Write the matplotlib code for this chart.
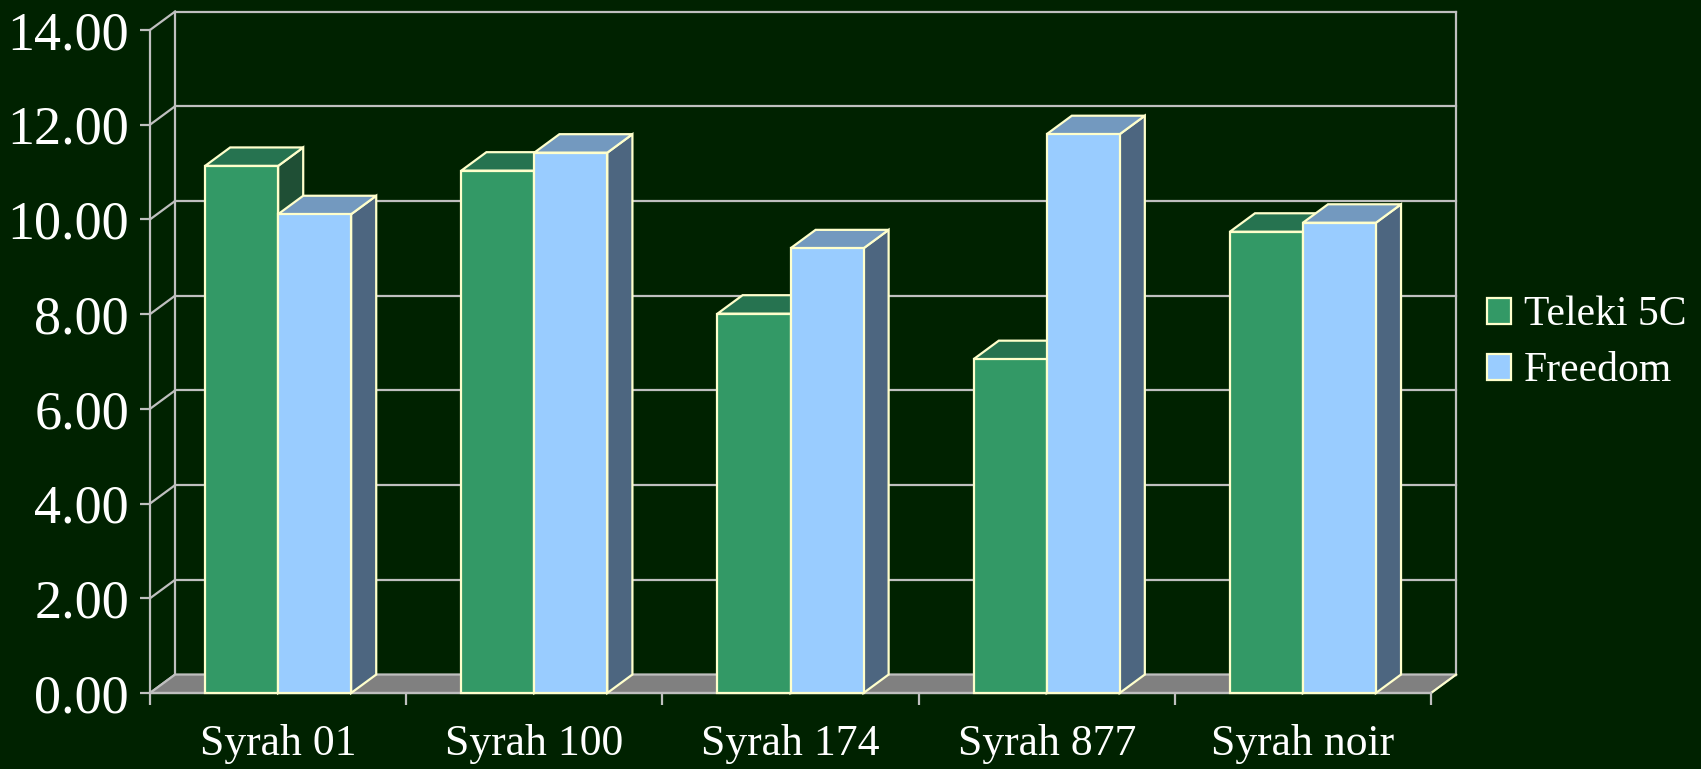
import matplotlib
matplotlib.use("Agg")
import matplotlib.pyplot as plt
from matplotlib.patches import Polygon, Patch

categories = ["Syrah 01", "Syrah 100", "Syrah 174", "Syrah 877", "Syrah noir"]
series_names = ["Teleki 5C", "Freedom"]
teleki = [11.13, 11.03, 8.01, 7.05, 9.74]
freedom = [10.11, 11.41, 9.39, 11.80, 9.93]
yticks = [0, 2, 4, 6, 8, 10, 12, 14]
ytick_labels = ["0.00", "2.00", "4.00", "6.00", "8.00", "10.00", "12.00", "14.00"]

BG = "#002200"
GRID = "#BFBFBF"
EDGE = "#FFFFCC"
FLOOR = "#808080"
faces = {
    "Teleki 5C": ("#339966", "#267350", "#1F4F35"),
    "Freedom": ("#99CCFF", "#7399BF", "#4D6680"),
}
DX, DY = 0.098, 0.39     # depth offset (category units, value units)
BAR_W = 0.285
GAP = 0.215

plt.rcParams["font.family"] = ["Liberation Serif", "DejaVu Serif"]

fig = plt.figure(figsize=(17.01, 7.69), dpi=100, facecolor=BG)
ax = fig.add_axes([150 / 1701, 76 / 769, 1281 / 1701, 663 / 769])
ax.set_facecolor("none")
n = len(categories)
ax.set_xlim(0, n)
ax.set_ylim(0, 14)
ymax = 14

# back wall grid lines and left wall diagonals
for t in yticks:
    ax.plot([DX, n + DX], [t + DY, t + DY], color=GRID, lw=1.6, clip_on=False, zorder=1)
    ax.plot([0, DX], [t, t + DY], color=GRID, lw=1.6, clip_on=False, zorder=1)
ax.plot([DX, DX], [DY, ymax + DY], color=GRID, lw=1.6, clip_on=False, zorder=1)
ax.plot([n + DX, n + DX], [DY, ymax + DY], color=GRID, lw=1.6, clip_on=False, zorder=1)

# floor
floor = Polygon([(0, 0), (n, 0), (n + DX, DY), (DX, DY)], closed=True,
                facecolor=FLOOR, edgecolor=GRID, lw=1.6, clip_on=False, zorder=2)
ax.add_patch(floor)
ax.plot([n, n + DX], [0, DY], color=EDGE, lw=1.4, clip_on=False, zorder=2.1)

def bar3d(x0, v, cols, z):
    front, top, side = cols
    x1 = x0 + BAR_W
    kw = dict(closed=True, edgecolor=EDGE, lw=1.6, clip_on=False, zorder=z, joinstyle="miter")
    ax.add_patch(Polygon([(x1, 0), (x1 + DX, DY), (x1 + DX, v + DY), (x1, v)], facecolor=side, **kw))
    ax.add_patch(Polygon([(x0, v), (x1, v), (x1 + DX, v + DY), (x0 + DX, v + DY)], facecolor=top, **kw))
    ax.add_patch(Polygon([(x0, 0), (x1, 0), (x1, v), (x0, v)], facecolor=front, **kw))

z = 3
for i in range(n):
    for j, (name, vals) in enumerate(zip(series_names, [teleki, freedom])):
        bar3d(i + GAP + j * BAR_W, vals[i], faces[name], z)
        z += 0.1

# axes styling
for s in ["top", "right"]:
    ax.spines[s].set_visible(False)
for s in ["left", "bottom"]:
    ax.spines[s].set_color(GRID)
    ax.spines[s].set_linewidth(1.6)
    ax.spines[s].set_zorder(2.5)

ax.set_yticks(yticks)
ax.set_yticklabels(ytick_labels)
ax.tick_params(axis="y", colors=GRID, labelcolor="white", labelsize=39,
               length=7.2, width=1.6, pad=8)
ax.set_xticks(range(n + 1))
ax.set_xticklabels([""] * (n + 1))
ax.tick_params(axis="x", which="major", colors=GRID, length=8.6, width=1.6)
ax.set_xticks([i + 0.5 for i in range(n)], minor=True)
ax.set_xticklabels(categories, minor=True)
ax.tick_params(axis="x", which="minor", length=0, labelcolor="white",
               labelsize=31.5, pad=22.5)

handles = [Patch(facecolor=faces[nm][0], edgecolor=EDGE, lw=1.6) for nm in series_names]
leg = fig.legend(handles, series_names, loc="center left",
                 bbox_to_anchor=(1487 / 1701, 1 - 343 / 769),
                 frameon=False, fontsize=30, handlelength=0.58, handleheight=0.58,
                 handletextpad=0.3, labelspacing=0.42, borderpad=0, borderaxespad=0)
for t in leg.get_texts():
    t.set_color("white")

fig.savefig("out.png", dpi=100, facecolor=BG)
